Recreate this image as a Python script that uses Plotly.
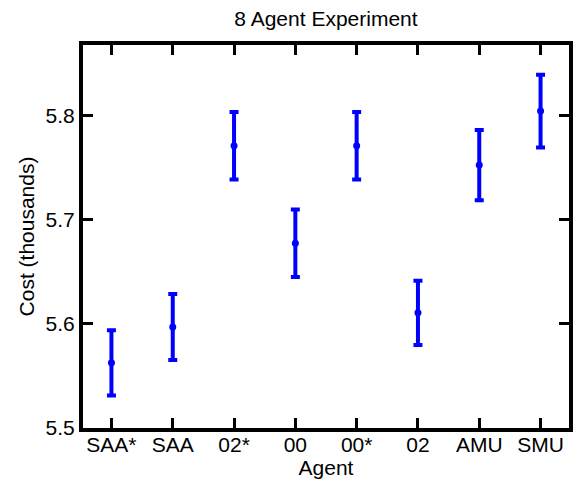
import plotly.graph_objects as go

agents = ["SAA*", "SAA", "02*", "00", "00*", "02", "AMU", "SMU"]
mean_cost = [5.5626, 5.5971, 5.7712, 5.6776, 5.7712, 5.6107, 5.7526, 5.8045]
ci_half = [0.0313, 0.0317, 0.0324, 0.0324, 0.0324, 0.0309, 0.0337, 0.0350]
y_tickvals = [5.5, 5.6, 5.7, 5.8]
y_ticktext = ["5.5", "5.6", "5.7", "5.8"]

FONT = "Liberation Sans, Arial, Helvetica, sans-serif"
BLUE = "#0000FF"

fig = go.Figure()
fig.add_trace(go.Scatter(
    x=agents, y=mean_cost, mode="markers",
    marker=dict(color=BLUE, size=7),
    error_y=dict(type="data", array=ci_half, visible=True,
                 color=BLUE, thickness=4, width=4.5),
    showlegend=False,
))

axis_common = dict(
    showline=True, linecolor="black", linewidth=4, mirror="ticks",
    ticks="inside", ticklen=10, tickwidth=3, tickcolor="black",
    showgrid=False, zeroline=False, automargin=False,
    tickfont=dict(family=FONT, size=21, color="black"),
)

fig.update_layout(
    width=580, height=482,
    margin=dict(l=83, r=11, t=45, b=54),
    paper_bgcolor="white", plot_bgcolor="white",
    font=dict(family=FONT, size=21, color="black"),
    title=dict(text="8 Agent Experiment", x=0.562, xanchor="center",
               y=1 - 18.8 / 482, yanchor="middle", yref="container",
               font=dict(family=FONT, size=21, color="black")),
    xaxis=dict(axis_common, type="category", categoryorder="array",
               categoryarray=agents, range=[-0.464, 7.464],
               ticklabelstandoff=-5,
               title=dict(text="Agent", standoff=6,
                          font=dict(family=FONT, size=21, color="black"))),
    yaxis=dict(axis_common, range=[5.5, 5.868],
               tickvals=y_tickvals, ticktext=y_ticktext,
               title=dict(text="Cost (thousands)", standoff=6,
                          font=dict(family=FONT, size=21, color="black"))),
)

fig.write_html("out.html")
